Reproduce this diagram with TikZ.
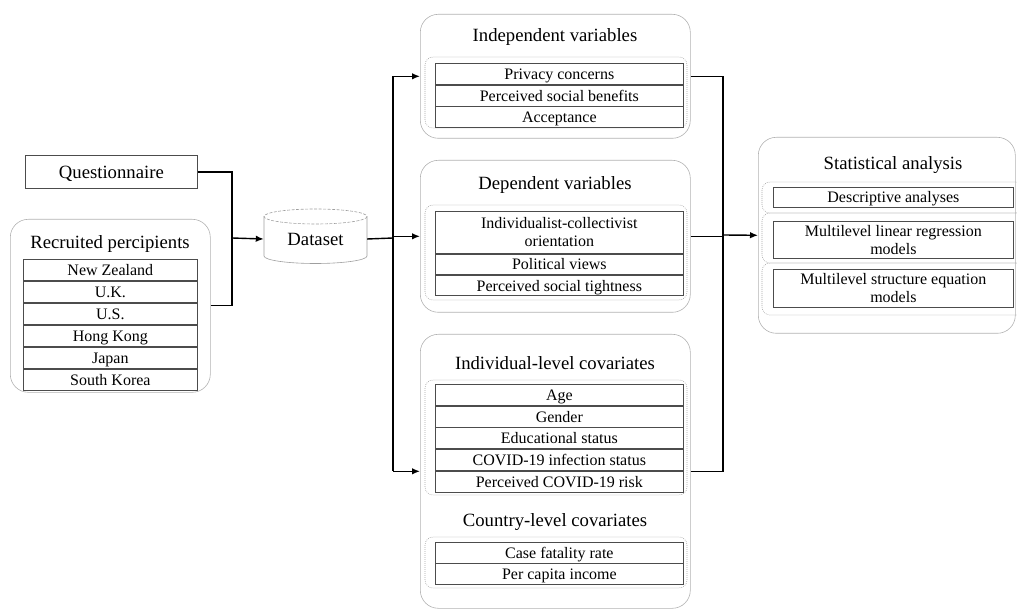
\documentclass[tikz,border=0pt]{standalone}
\usepackage{fontspec}
\setmainfont{Liberation Serif}
\usetikzlibrary{arrows.meta}
\newcommand\ttlfont{\fontsize{18.7}{21}\selectfont}
\newcommand\rowfont{\fontsize{16}{18}\selectfont}
\begin{document}
\begin{tikzpicture}[x=1pt,y=-1pt,
 panel/.style={draw=gray!60, line width=0.6pt, rounded corners=18pt, anchor=north west, inner sep=0pt},
 dotbox/.style={draw=gray!70, line width=0.6pt, dash pattern=on 0.8pt off 1.2pt, rounded corners=8pt},
 cell/.style={draw=black!70, line width=0.7pt, anchor=north west, inner sep=0pt, align=center, font=\rowfont, text depth=0pt},
 ttl/.style={font=\ttlfont, inner sep=0pt},
 conn/.style={line width=1.4pt, black},
 arr/.style={conn, -{Latex[length=8pt,width=6.5pt]}}
]
\useasboundingbox (0,0) rectangle (1017,609);

% Questionnaire
\node[cell, font=\ttlfont, minimum width=172pt, minimum height=33pt] (q) at (25,155) {Questionnaire};

% Recruited participants
\node[panel, minimum width=200pt, minimum height=173pt] (rp) at (10,219) {};
\node[ttl] (rpt) at (110,244) {Recruited percipients};
\node[cell, minimum width=174pt, minimum height=21.33pt] (r1) at (23,259) {New Zealand};
\node[cell, minimum width=174pt, minimum height=21.33pt] (r2) at (r1.south west) {U.K.};
\node[cell, minimum width=174pt, minimum height=21.33pt] (r3) at (r2.south west) {U.S.};
\node[cell, minimum width=174pt, minimum height=21.33pt] (r4) at (r3.south west) {Hong Kong};
\node[cell, minimum width=174pt, minimum height=21.33pt] (r5) at (r4.south west) {Japan};
\node[cell, minimum width=174pt, minimum height=21.33pt] (r6) at (r5.south west) {South Korea};

% Dataset cylinder
\node[font=\ttlfont, minimum width=103pt, minimum height=54pt, inner sep=0pt] (ds) at (315.5,239) {Dataset};
\draw[gray!75, line width=0.6pt] (264,216.5) -- (264,256) arc[start angle=180, end angle=0, x radius=51.5, y radius=7.5] -- (367,216.5);
\draw[gray!75, line width=0.6pt, dash pattern=on 3pt off 1.5pt] (315.5,216.5) ellipse [x radius=51.5, y radius=7.5];

% Independent variables
\node[panel, minimum width=270pt, minimum height=124pt] (iv) at (420,14) {};
\node[ttl] (ivt) at (555,37) {Independent variables};
\draw[dotbox] (425,57) rectangle (687,128);
\node[cell, minimum width=248pt, minimum height=21pt] (i1) at (435,63) {Privacy concerns};
\node[cell, minimum width=248pt, minimum height=21pt] (i2) at (i1.south west) {Perceived social benefits};
\node[cell, minimum width=248pt, minimum height=21pt] (i3) at (i2.south west) {Acceptance};

% Dependent variables
\node[panel, minimum width=270pt, minimum height=152pt] (dv) at (420,160) {};
\node[ttl] (dvt) at (555,185) {Dependent variables};
\draw[dotbox] (425,205) rectangle (687,300);
\node[cell, minimum width=248pt, minimum height=42pt] (d1) at (435,211) {Individualist-collectivist\\orientation};
\node[cell, minimum width=248pt, minimum height=20.5pt] (d2) at (d1.south west) {Political views};
\node[cell, minimum width=248pt, minimum height=20.5pt] (d3) at (d2.south west) {Perceived social tightness};

% Covariates
\node[panel, minimum width=270pt, minimum height=274pt] (ic) at (420,334) {};
\node[ttl] (ict) at (555,363) {Individual-level covariates};
\draw[dotbox] (425,380) rectangle (687,495);
\node[cell, minimum width=248pt, minimum height=21pt] (c1) at (435,384) {Age};
\node[cell, minimum width=248pt, minimum height=21pt] (c2) at (c1.south west) {Gender};
\node[cell, minimum width=248pt, minimum height=21pt] (c3) at (c2.south west) {Educational status};
\node[cell, minimum width=248pt, minimum height=21pt] (c4) at (c3.south west) {COVID-19 infection status};
\node[cell, minimum width=248pt, minimum height=21pt] (c5) at (c4.south west) {Perceived COVID-19 risk};
\node[ttl] (cct) at (555,522) {Country-level covariates};
\draw[dotbox] (425,537) rectangle (687,588);
\node[cell, minimum width=248pt, minimum height=20.5pt] (k1) at (435,542) {Case fatality rate};
\node[cell, minimum width=248pt, minimum height=20.5pt] (k2) at (k1.south west) {Per capita income};

% Statistical analysis
\node[panel, minimum width=257pt, minimum height=196pt] (sa) at (758,137) {};
\node[ttl] (sat) at (893,165) {Statistical analysis};
\draw[dotbox] (762,182) rectangle (1024,213);
\draw[dotbox] (762,213) rectangle (1024,263);
\draw[dotbox] (762,263) rectangle (1024,315);
\node[cell, minimum width=240pt, minimum height=20pt] (s1) at (773,187) {Descriptive analyses};
\node[cell, minimum width=240pt, minimum height=37pt] (s2) at (773,221) {Multilevel linear regression\\models};
\node[cell, minimum width=240pt, minimum height=38pt] (s3) at (773,269) {Multilevel structure equation\\models};

% Connectors
\coordinate (jq) at (232,238);
\draw[conn] (q.east) -| (jq);
\draw[conn] (rp.east) -| (jq);
\draw[arr] (jq) -- (ds.west);

\coordinate (tl) at (393,238);
\draw[conn] (ds.east) -- (tl);
\draw[conn] (tl |- iv.west) -- (tl |- ic.west);
\draw[arr] (tl |- iv.west) -- (iv.west);
\draw[arr] (tl |- dv.west) -- (dv.west);
\draw[arr] (tl |- ic.west) -- (ic.west);

\coordinate (tr) at (723,235);
\draw[conn] (iv.east) -| (tr);
\draw[conn] (ic.east) -| (tr);
\draw[conn] (dv.east) -- (dv.east -| tr);
\draw[arr] (tr) -- (sa.west);
\end{tikzpicture}
\end{document}
